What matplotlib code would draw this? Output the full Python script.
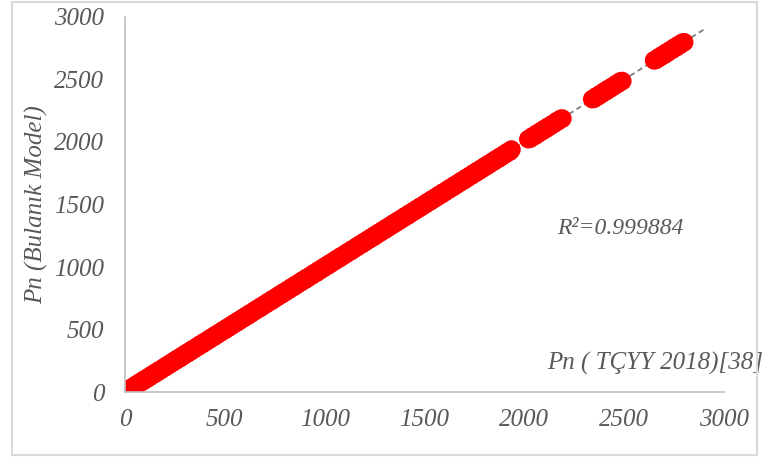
import numpy as np
import matplotlib
matplotlib.use("Agg")
import matplotlib.pyplot as plt
from matplotlib.patches import Rectangle

# Pn (TCYY 2018) values vs Pn from fuzzy model
pn_tcyy = [
    0, 6, 14, 21, 30, 38, 47, 55, 63, 72, 80, 91, 99, 108, 117, 125, 134, 146, 153, 162,
    171, 180, 192, 200, 208, 219, 228, 236, 247, 255, 264, 275, 283, 292, 301, 312, 320, 331, 339, 348,
    360, 368, 377, 388, 396, 405, 416, 424, 433, 445, 453, 462, 473, 481, 490, 502, 510, 519, 530, 538,
    547, 559, 567, 576, 587, 595, 604, 616, 624, 633, 644, 652, 661, 673, 681, 690, 701, 709, 718, 730,
    738, 747, 758, 766, 775, 787, 795, 804, 815, 823, 832, 844, 852, 861, 872, 880, 889, 901, 909, 918,
    929, 937, 946, 958, 966, 975, 986, 994, 1003, 1015, 1023, 1032, 1043, 1051, 1060, 1072, 1080, 1089, 1100, 1108,
    1117, 1129, 1137, 1146, 1157, 1165, 1174, 1186, 1194, 1203, 1214, 1222, 1231, 1243, 1251, 1260, 1271, 1279, 1288, 1300,
    1308, 1317, 1328, 1336, 1345, 1357, 1365, 1374, 1385, 1393, 1402, 1414, 1422, 1431, 1442, 1450, 1459, 1471, 1479, 1488,
    1499, 1507, 1516, 1528, 1536, 1545, 1556, 1564, 1573, 1585, 1593, 1602, 1613, 1621, 1630, 1642, 1650, 1659, 1670, 1678,
    1687, 1699, 1707, 1716, 1727, 1735, 1744, 1756, 1764, 1773, 1784, 1792, 1801, 1813, 1821, 1830, 1841, 1849, 1858, 1870,
    1878, 1887, 1898, 1906, 1915, 1927, 1935,
    2020, 2031, 2040, 2052, 2061, 2070, 2082, 2091, 2100, 2111, 2120, 2131, 2140, 2150, 2161, 2170, 2181, 2190,
    2340, 2349, 2360, 2370, 2381, 2390, 2400, 2411, 2420, 2431, 2440, 2450, 2461, 2470, 2480, 2490,
    2650, 2660, 2671, 2680, 2690, 2701, 2710, 2720, 2731, 2740, 2750, 2761, 2770, 2780, 2790, 2800,
]
pn_model = [
    3, 4, 17, 19, 33, 35, 50, 53, 66, 70, 84, 88, 103, 105, 120, 122, 138, 143, 157, 159,
    175, 177, 195, 197, 212, 216, 231, 233, 251, 252, 268, 271, 287, 289, 305, 308, 324, 327, 343, 345,
    363, 365, 381, 384, 400, 402, 419, 421, 437, 441, 457, 459, 476, 478, 494, 498, 514, 516, 533, 535,
    551, 555, 571, 573, 590, 592, 608, 612, 628, 630, 647, 649, 665, 669, 685, 687, 704, 706, 722, 726,
    742, 744, 761, 763, 779, 783, 799, 801, 818, 820, 836, 840, 856, 858, 875, 877, 893, 897, 913, 915,
    932, 934, 950, 954, 970, 972, 989, 991, 1007, 1011, 1027, 1029, 1046, 1048, 1064, 1068, 1084, 1086, 1103, 1105,
    1121, 1125, 1141, 1143, 1160, 1162, 1178, 1182, 1198, 1200, 1217, 1219, 1235, 1239, 1255, 1257, 1274, 1276, 1292, 1296,
    1312, 1314, 1331, 1333, 1349, 1353, 1369, 1371, 1388, 1390, 1406, 1410, 1426, 1428, 1445, 1447, 1463, 1467, 1483, 1485,
    1502, 1504, 1520, 1524, 1540, 1542, 1559, 1561, 1577, 1581, 1597, 1599, 1616, 1618, 1634, 1638, 1654, 1656, 1673, 1675,
    1691, 1695, 1711, 1713, 1730, 1732, 1748, 1752, 1768, 1770, 1787, 1789, 1805, 1809, 1825, 1827, 1844, 1846, 1862, 1866,
    1882, 1884, 1901, 1903, 1919, 1923, 1939,
    2023, 2028, 2044, 2048, 2065, 2067, 2085, 2088, 2104, 2107, 2124, 2128, 2143, 2147, 2165, 2167, 2184, 2187,
    2343, 2346, 2364, 2366, 2384, 2387, 2404, 2407, 2424, 2428, 2443, 2447, 2465, 2467, 2484, 2487,
    2653, 2657, 2675, 2677, 2694, 2697, 2714, 2717, 2734, 2737, 2754, 2757, 2774, 2777, 2793, 2797,
]
trend_range = [0, 2900]
ticks = [0, 500, 1000, 1500, 2000, 2500, 3000]

gray = "#595959"
font = {"family": "Liberation Serif", "style": "italic", "color": gray}

fig = plt.figure(figsize=(7.67, 4.57), dpi=100)
ax = fig.add_axes([0.163, 0.142, 0.781, 0.821])

# linear trend line (drawn under the markers, like excel)
k, b = np.polyfit(pn_tcyy, pn_model, 1)
tx = np.array(trend_range)
ax.plot(tx, k * tx + b, linestyle=(0, (3, 2)), color="#7f7f7f", lw=1.3, zorder=1)

ax.scatter(pn_tcyy, pn_model, s=105, facecolors="none", edgecolors="#ff0000",
           linewidths=3.2, zorder=2)

ax.set_xlim(0, 3000)
ax.set_ylim(0, 3000)
ax.set_xticks(ticks)
ax.set_yticks(ticks)
ax.tick_params(length=0)
ax.tick_params(axis="y", pad=15)
ax.tick_params(axis="x", pad=12)
for lab in ax.get_xticklabels() + ax.get_yticklabels():
    lab.set_fontfamily("Liberation Serif")
    lab.set_fontstyle("italic")
    lab.set_fontsize(18)
    lab.set_color(gray)

for s in ["top", "right"]:
    ax.spines[s].set_visible(False)
for s in ["left", "bottom"]:
    ax.spines[s].set_color("#bfbfbf")
    ax.spines[s].set_linewidth(1.2)

ax.set_ylabel("Pn (Bulanık Model)", fontsize=18, labelpad=4, **font)
ax.text(1.065, 0.077, "Pn ( TÇYY 2018)[38]", transform=ax.transAxes,
        ha="right", va="center", fontsize=18, **font)
ax.text(2480, 1310, "R²=0.999884", ha="center", va="center", fontsize=17, **font)

fig.patches.append(Rectangle((12 / 767, 2 / 457), 745 / 767, 453 / 457,
                             transform=fig.transFigure, fill=False,
                             edgecolor="#d9d9d9", lw=1.5))

fig.savefig("out.png", dpi=100)
